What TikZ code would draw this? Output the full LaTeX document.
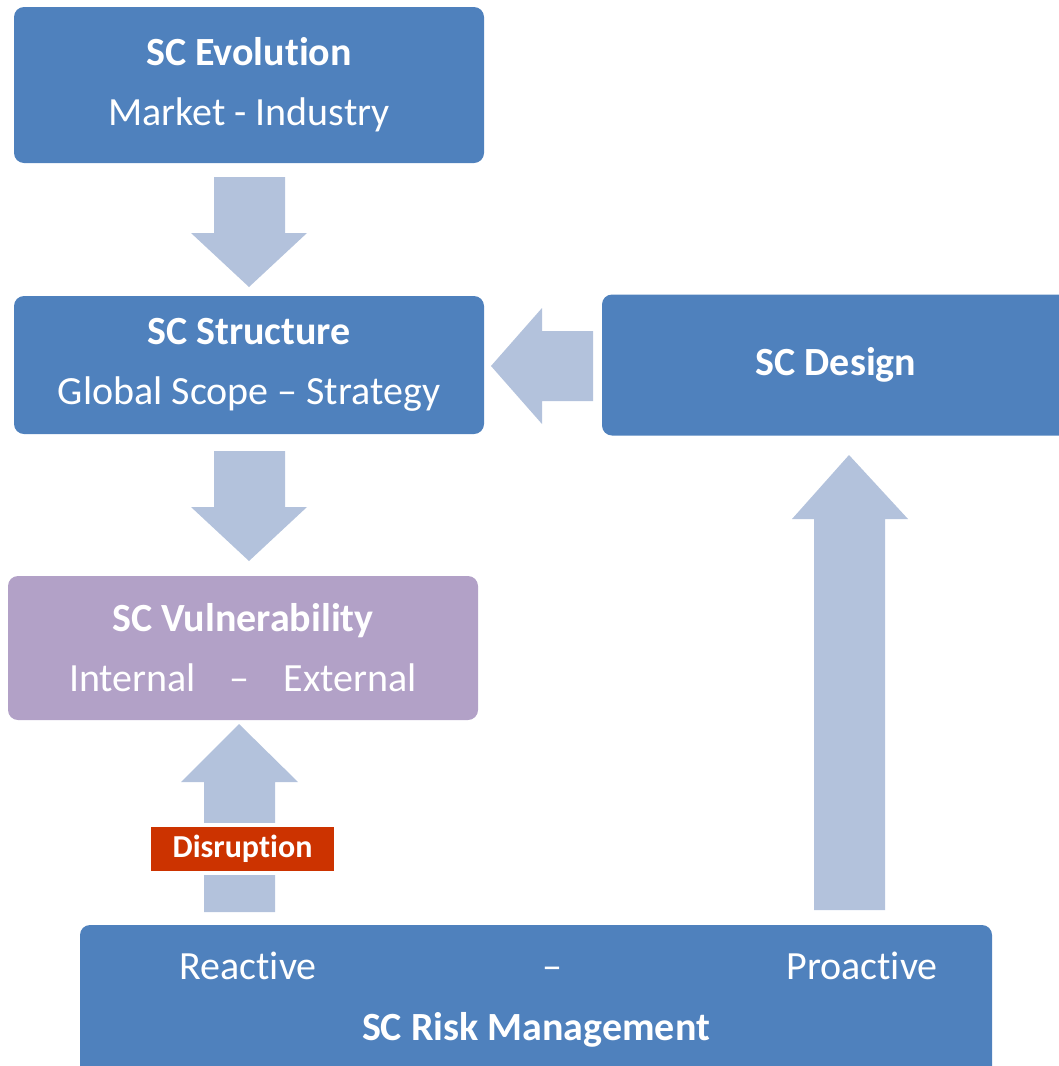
\documentclass[tikz,border=0pt]{standalone}
\usepackage{fontspec}
\setmainfont{Carlito}[Ligatures={NoCommon,NoContextual}]
\definecolor{boxblue}{RGB}{79,129,189}
\definecolor{arrowblue}{RGB}{179,194,220}
\definecolor{vulpurple}{RGB}{178,161,199}
\definecolor{disred}{RGB}{204,51,0}
\tikzset{
  scbox/.style={fill=boxblue, rounded corners=10pt, text=white, align=center,
    minimum width=470pt, inner sep=0pt, font=\fontsize{40}{60}\selectfont},
  sctext/.style={text=white, anchor=base, inner sep=0pt, font=\fontsize{40}{60}\selectfont},
  blockarrow/.style={fill=arrowblue}
}
\begin{document}
\begin{tikzpicture}[x=1pt,y=-1pt]
\useasboundingbox (0,0) rectangle (1059,1066);
% boxes
\node[scbox, minimum height=156pt] (evo) at (249,85) {\textbf{SC Evolution}\\Market - Industry};
\node[scbox, minimum height=138pt] (struct) at (249,365) {\textbf{SC Structure}\\Global Scope – Strategy};
\node[scbox, minimum width=468pt, minimum height=141pt] (design) at (836,365) {\textbf{SC Design}};
\node[scbox, fill=vulpurple, minimum height=144pt] (vuln) at (243,648)
  {\textbf{SC Vulnerability}\\Internal\hspace{34pt}–\hspace{34pt}External};
\node[scbox, minimum width=912pt, minimum height=160pt] (riskmgmt) at (536,1005) {};
% risk management texts
\node[sctext] (reactive) at (248,979) {Reactive};
\node[sctext] (rmdash) at (552,979) {–};
\node[sctext] (proactive) at (862,979) {Proactive};
\node[sctext] (rmtitle) at (536,1040) {\textbf{SC Risk Management}};
% down arrows
\foreach \y in {0,274}
  \fill[blockarrow] (214,177+\y) -- (285,177+\y) -- (285,233+\y) -- (307,233+\y)
    -- (249,287+\y) -- (191,233+\y) -- (214,233+\y) -- cycle;
% design -> structure
\fill[blockarrow] (593,331) -- (593,401) -- (542,401) -- (542,424) -- (491,366)
  -- (542,308) -- (542,331) -- cycle;
% risk management -> design
\fill[blockarrow] (814,910) -- (814,519) -- (792,519) -- (849,455) -- (908,519)
  -- (885,519) -- (885,910) -- cycle;
% risk management -> vulnerability
\fill[blockarrow] (204,912) -- (204,782) -- (181,782) -- (239,724) -- (298,782)
  -- (275,782) -- (275,912) -- cycle;
\node[draw=white, line width=4pt, fill=disred, text=white, inner sep=0pt,
  minimum width=187pt, minimum height=48pt, font=\fontsize{32}{32}\selectfont\bfseries]
  (disruption) at (242.5,849) {Disruption};
\end{tikzpicture}
\end{document}
